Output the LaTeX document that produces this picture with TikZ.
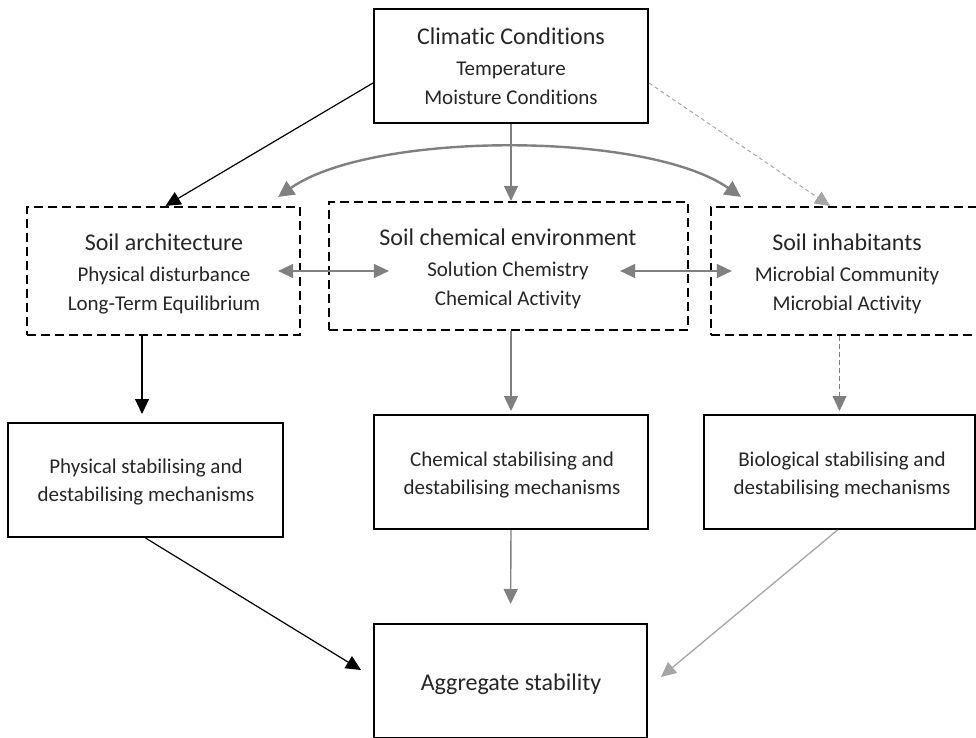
\documentclass[tikz,border=0pt]{standalone}
\usepackage{fontspec}
\setmainfont{Carlito}[Ligatures=NoCommon]
\usetikzlibrary{arrows.meta}
\definecolor{arrgray}{HTML}{808080}
\definecolor{lightarr}{HTML}{A6A6A6}
\definecolor{txt}{HTML}{262626}
\begin{document}
\begin{tikzpicture}[x=1pt,y=-1pt,
  box/.style={draw=black,line width=2pt,inner sep=0pt},
  dbox/.style={draw=black,line width=2.2pt,dash pattern=on 9pt off 5pt,inner sep=0pt},
  ttl/.style={anchor=base,font=\fontsize{24}{28}\selectfont,text=txt,inner sep=0pt},
  sub/.style={anchor=base,font=\fontsize{21}{26}\selectfont,text=txt,inner sep=0pt},
  tip/.style={-{Triangle[length=15pt,width=14pt]}},
  dtip/.style={{Triangle[length=15pt,width=14pt]}-{Triangle[length=15pt,width=14pt]}},
  blk/.style={tip,draw=black,line width=1.2pt},
  gry/.style={tip,draw=arrgray,line width=1.4pt},
  lgry/.style={tip,draw=lightarr,line width=1.3pt},
]
\clip (0,0) rectangle (976,738);
\fill[white] (0,0) rectangle (976,738);

% boxes
\node[box,minimum width=274pt,minimum height=114pt] (clim) at (511,66) {};
\node[dbox,minimum width=273pt,minimum height=128pt] (arch) at (163.5,271) {};
\node[dbox,minimum width=359pt,minimum height=128pt] (chem) at (508.5,266) {};
\node[dbox,minimum width=272pt,minimum height=128pt] (inhab) at (847,271) {};
\node[box,minimum width=275pt,minimum height=114pt] (phys) at (145.5,480) {};
\node[box,minimum width=274pt,minimum height=114pt] (chm) at (511,472) {};
\node[box,minimum width=271pt,minimum height=114pt] (bio) at (839.5,472) {};
\node[box,minimum width=273pt,minimum height=114pt] (agg) at (510.5,681) {};

% texts
\node[ttl] (clim-t) at (511,45) {Climatic Conditions};
\node[sub] (clim-a) at (511,76) {Temperature};
\node[sub] (clim-b) at (511,105) {Moisture Conditions};

\node[ttl] (arch-t) at (164,250) {Soil architecture};
\node[sub] (arch-a) at (164,281) {Physical disturbance};
\node[sub] (arch-b) at (164,310) {Long-Term Equilibrium};

\node[ttl] (chem-t) at (508,245) {Soil chemical environment};
\node[sub] (chem-a) at (508,276) {Solution Chemistry};
\node[sub] (chem-b) at (508,305) {Chemical Activity};

\node[ttl] (inhab-t) at (847,250) {Soil inhabitants};
\node[sub] (inhab-a) at (847,281) {Microbial Community};
\node[sub] (inhab-b) at (847,310) {Microbial Activity};

\node[sub] (phys-a) at (146,473) {Physical stabilising and};
\node[sub] (phys-b) at (146,501) {destabilising mechanisms};

\node[sub] (chm-a) at (512,466) {Chemical stabilising and};
\node[sub] (chm-b) at (512,494) {destabilising mechanisms};

\node[sub] (bio-a) at (842,466) {Biological stabilising and};
\node[sub] (bio-b) at (842,494) {destabilising mechanisms};

\node[ttl] (agg-t) at (511,690) {Aggregate stability};

% connectors from climate
\draw[blk] ([yshift=-17pt]clim.west) -- ([xshift=2pt]arch.north);
\draw[gry] (clim.south) -- (clim.south |- chem.north);
\draw[lgry,line width=1pt,dash pattern=on 4pt off 3pt] ([yshift=-17pt]clim.east) -- ([xshift=-17pt]inhab.north);

% curved double arrow
\draw[draw=arrgray,line width=2.4pt,{Triangle[length=16pt,width=16pt]}-{Triangle[length=16pt,width=16pt]}]
  ([xshift=-23pt,yshift=9pt]arch.north east) .. controls (372,131) and (647,131) .. ([xshift=31pt,yshift=9pt]inhab.north west);

% horizontal double arrows
\draw[gry,dtip] ([xshift=-23pt]arch.east) -- ([xshift=61pt]chem.west |- arch.east);
\draw[gry,dtip] ([xshift=-69pt]chem.east |- inhab.west) -- ([xshift=22pt]inhab.west);

% down to mechanisms
\draw[blk,shorten >=8pt] ([xshift=-21.5pt]arch.south) -- ([xshift=-21.5pt]arch.south |- phys.north);
\draw[gry,shorten >=3pt] (chm.north |- chem.south) -- (chm.north);
\draw[gry,line width=1pt,dash pattern=on 5pt off 3pt,shorten >=3pt] (bio.north |- inhab.south) -- (bio.north);

% to aggregate stability
\draw[blk] (phys.south) -- ([xshift=-12pt,yshift=11pt]agg.west);
\draw[gry,shorten >=19pt] (chm.south) -- (agg.north);
\draw[lgry] ([xshift=-2pt]bio.south) -- ([xshift=13pt,yshift=4pt]agg.east);
\end{tikzpicture}
\end{document}
